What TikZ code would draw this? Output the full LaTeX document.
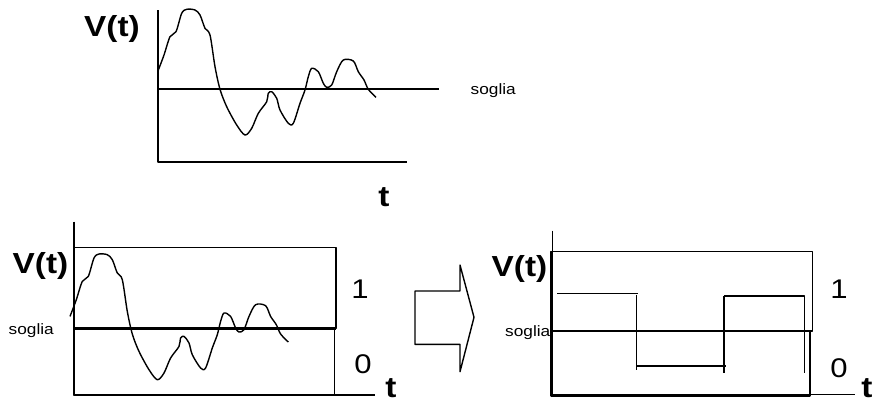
\documentclass[tikz,border=0pt]{standalone}
\usepackage{fontspec}
\setmainfont{Liberation Sans}[FakeStretch=1.15]
\tikzset{
  % the noisy signal, drawn once and placed twice
  segnale/.pic={
    \draw plot[smooth,tension=0.5] coordinates {
      (157.7,71.7) (164,55) (170,36.7) (176,31.7) (181.7,13.3) (186.7,9.3)
      (195,10) (200,15) (205,28.3) (210,35) (215,66.7) (220,89.3)
      (226.7,106.7) (236.7,125) (245,135) (251.7,128.3) (258.3,113.3)
      (266.7,101.7) (268.3,93.3) (271.7,91.7) (276.7,98.3) (280,110)
      (288.3,123.3) (293.3,123.3) (300,103.3) (305,90) (308.3,76.7)
      (311.7,68.3) (318.3,71.7) (323.3,83.3) (326.7,87.3) (331.7,85)
      (336.7,71.7) (343.3,60) (353.3,61) (358.3,71.7) (364,80)
      (368.3,89.3) (376,97.3)};
  }
}

\begin{document}
\begin{tikzpicture}[x=1pt,y=-1pt,line width=1.4pt,line join=round,
  etic/.style={font=\fontsize{29}{29}\selectfont\bfseries,inner sep=0pt},
  cifra/.style={font=\fontsize{27}{27}\selectfont,inner sep=0pt},
  sogl/.style={font=\fontsize{15}{15}\selectfont,inner sep=0pt},
  spessa/.style={line width=3pt}]
  \useasboundingbox (0,0) rectangle (874,402);

  % top plot
  \draw (158,10) -- (158,162) -- (406.7,162);
  \draw (158,89) -- (439,89);
  \pic at (0,0) {segnale};
  \node[etic,anchor=base] (vt1) at (112,36) {V(t)};
  \node[etic,anchor=base] (t1) at (384,206) {t};
  \node[sogl,anchor=base west] (s1) at (470,94) {soglia};

  % bottom left: signal and the two zones
  \draw (74,221.7) -- (74,395) -- (375,395);
  \draw (74,247.3) rectangle (336,328.3);
  \draw (74,328.3) rectangle (334.3,395);
  \draw[spessa] (74,328.3) -- (336,328.3);
  \pic at (-87.7,244.7) {segnale};
  \node[etic,anchor=base east] (vt2) at (69,273) {V(t)};
  \node[sogl,anchor=base west] (s2) at (8,334) {soglia};
  \node[cifra] (u2) at (360,289) {1};
  \node[cifra] (z2) at (363,364) {0};
  \node[etic,anchor=base] (t2) at (391,397) {t};

  % block arrow
  \draw (415,291) -- (460,291) -- (460,265) -- (474,317.3) -- (460,371.7)
    -- (460,344.3) -- (415,344.3) -- cycle;

  % bottom right: decided levels
  \draw (552.3,230.7) -- (552.3,394.3) -- (855,394.3);
  \draw (551,251.7) rectangle (812.3,331);
  \draw[line width=2.3pt] (551,331) rectangle (810,395.5);
  \draw (551,331) -- (812.3,331);
  \draw (557.3,293.3) -- (638.3,293.3);
  \draw (636.7,295) -- (636.7,370);
  \draw (636.7,366) -- (726,366);
  \draw (724,296) -- (724,372.7);
  \draw (724,296) -- (804.3,296) -- (804.3,372.7);
  \node[etic,anchor=base east] (vt3) at (548,276) {V(t)};
  \node[sogl,anchor=base east] (s3) at (551,336) {soglia};
  \node[cifra] (u3) at (839,289) {1};
  \node[cifra] (z3) at (839,368) {0};
  \node[etic,anchor=base] (t3) at (867,397) {t};
\end{tikzpicture}
\end{document}
